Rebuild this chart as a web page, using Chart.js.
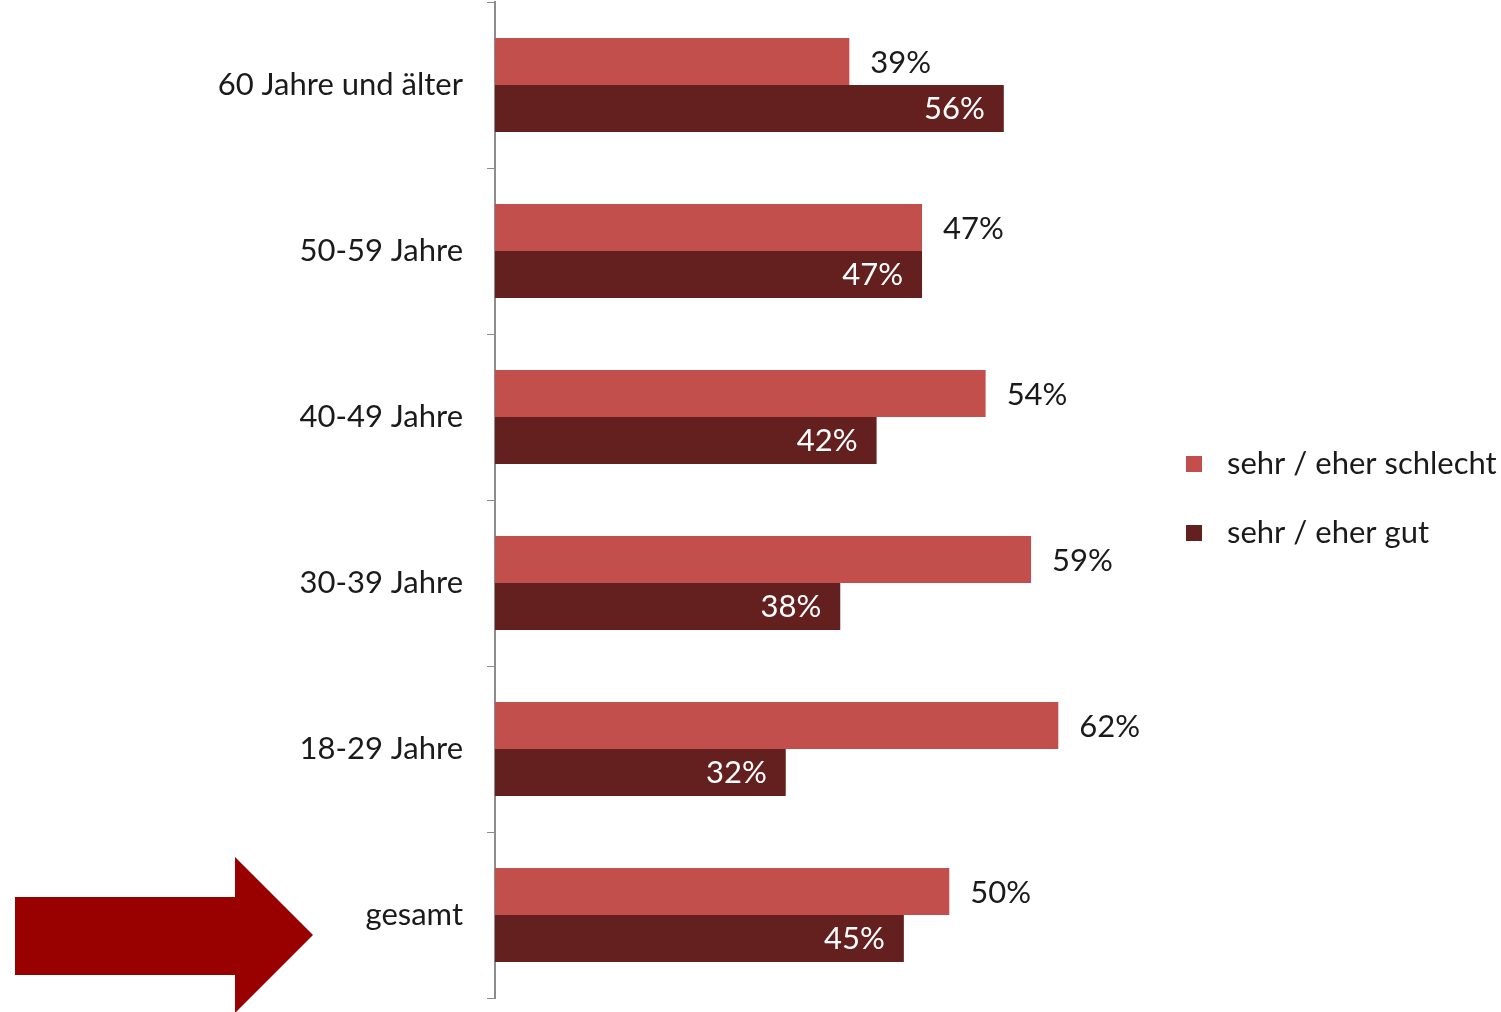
<!DOCTYPE html>
<html lang="de">
<head>
    <meta charset="UTF-8">
    <title>Bewertung nach Altersgruppen</title>
    <script src="https://cdn.jsdelivr.net/npm/chart.js"></script>
    <style>
        body {
            margin: 0;
            background: #ffffff;
        }
        .chart-box {
            position: relative;
            width: 1501px;
            height: 1012px;
        }
    </style>
</head>
<body>
    <div class="chart-box">
        <canvas id="ageChart"></canvas>
    </div>

    <script>
        // Daten
        const categories = ['60 Jahre und älter', '50-59 Jahre', '40-49 Jahre', '30-39 Jahre', '18-29 Jahre', 'gesamt'];
        const seriesNames = ['sehr / eher schlecht', 'sehr / eher gut'];
        const schlechtValues = [39, 47, 54, 59, 62, 50];
        const gutValues = [56, 47, 42, 38, 32, 45];

        const lightRed = '#c24f4c';
        const darkRed = '#64201f';
        const labelFont = '31px Lato, "Open Sans", sans-serif';

        // Prozentwerte an die Balken schreiben
        const valueLabels = {
            id: 'valueLabels',
            afterDatasetsDraw(chart) {
                const ctx = chart.ctx;
                ctx.save();
                ctx.font = labelFont;
                ctx.textBaseline = 'middle';
                chart.data.datasets.forEach((ds, i) => {
                    const meta = chart.getDatasetMeta(i);
                    meta.data.forEach((bar, j) => {
                        const txt = ds.data[j] + '%';
                        if (i === 0) {
                            ctx.fillStyle = '#1a1a1a';
                            ctx.textAlign = 'left';
                            ctx.fillText(txt, bar.x + 21, bar.y + 1);
                        } else {
                            ctx.fillStyle = '#ffffff';
                            ctx.textAlign = 'right';
                            ctx.fillText(txt, bar.x - 19, bar.y + 1);
                        }
                    });
                });
                ctx.restore();
            }
        };

        // Legende rechts neben dem Diagramm
        const sideLegend = {
            id: 'sideLegend',
            afterDraw(chart) {
                const ctx = chart.ctx;
                ctx.save();
                ctx.font = labelFont;
                ctx.textBaseline = 'middle';
                ctx.textAlign = 'left';
                chart.data.datasets.forEach((ds, i) => {
                    const y = 464 + i * 69;
                    ctx.fillStyle = ds.backgroundColor;
                    ctx.fillRect(1186, y - 8, 16, 16);
                    ctx.fillStyle = '#1a1a1a';
                    ctx.fillText(ds.label, 1227, y);
                });
                ctx.restore();
            }
        };

        // Pfeil unten links
        const arrow = {
            id: 'arrow',
            afterDraw(chart) {
                const ctx = chart.ctx;
                ctx.save();
                ctx.fillStyle = '#990000';
                ctx.beginPath();
                ctx.moveTo(15, 897);
                ctx.lineTo(235, 897);
                ctx.lineTo(235, 857);
                ctx.lineTo(313, 935);
                ctx.lineTo(235, 1013);
                ctx.lineTo(235, 975);
                ctx.lineTo(15, 975);
                ctx.closePath();
                ctx.fill();
                ctx.restore();
            }
        };

        new Chart(document.getElementById('ageChart'), {
            type: 'bar',
            data: {
                labels: categories,
                datasets: [
                    {
                        label: seriesNames[0],
                        data: schlechtValues,
                        backgroundColor: lightRed,
                        categoryPercentage: 0.566,
                        barPercentage: 1.0
                    },
                    {
                        label: seriesNames[1],
                        data: gutValues,
                        backgroundColor: darkRed,
                        categoryPercentage: 0.566,
                        barPercentage: 1.0
                    }
                ]
            },
            options: {
                indexAxis: 'y',
                responsive: true,
                maintainAspectRatio: false,
                animation: false,
                layout: {
                    padding: { top: 2, bottom: 14, left: 0, right: 370 }
                },
                plugins: {
                    legend: { display: false },
                    tooltip: { enabled: false }
                },
                scales: {
                    x: {
                        display: false,
                        min: 0,
                        max: 70
                    },
                    y: {
                        afterFit(scale) {
                            scale.width = 495;
                            scale.paddingTop = 0;
                            scale.paddingBottom = 0;
                        },
                        border: {
                            display: true,
                            color: '#8c8c8c',
                            width: 2
                        },
                        grid: {
                            offset: true,
                            drawOnChartArea: false,
                            tickLength: 8,
                            color: '#8c8c8c'
                        },
                        ticks: {
                            color: '#1a1a1a',
                            padding: 24,
                            font: { family: 'Lato, "Open Sans", sans-serif', size: 31 }
                        }
                    }
                }
            },
            plugins: [valueLabels, sideLegend, arrow]
        });
    </script>
</body>
</html>
